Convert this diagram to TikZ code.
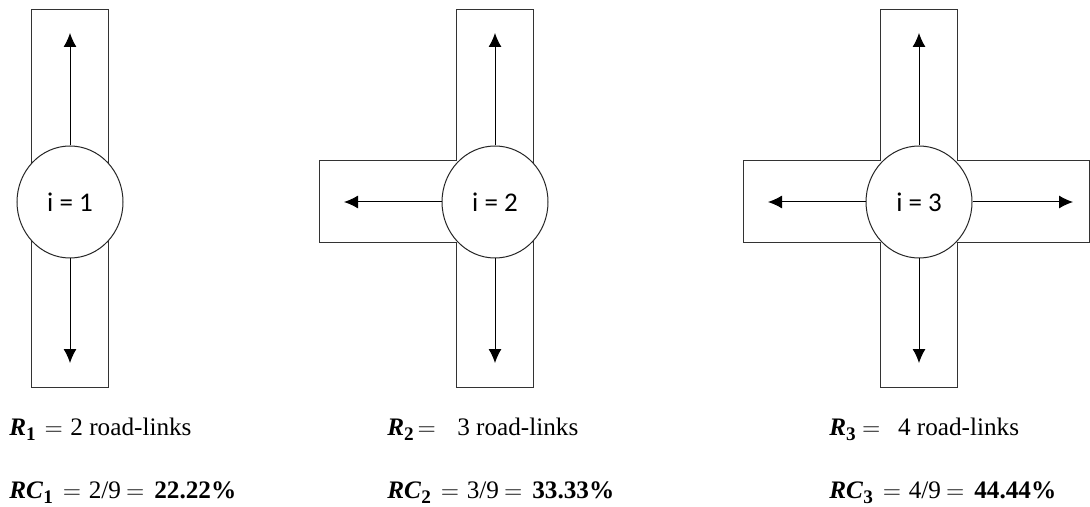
\documentclass[tikz,border=0pt]{standalone}
\usepackage{amsmath}
\usepackage{fontspec}
\setmainfont{Liberation Serif}
\newfontfamily\calib{Carlito}
\usetikzlibrary{arrows.meta,shapes.geometric}
\newcommand{\lbl}[2]{\textbf{\textit{#1}}\raisebox{-0.45ex}{\fontsize{9.6}{10}\selectfont\textbf{#2}}}

\begin{document}
\begin{tikzpicture}[
    x=0.5pt,y=-0.5pt,
    road/.style={draw=black!80,line width=0.5pt},
    junction/.style={ellipse,draw=black!85,fill=white,line width=0.5pt,
        minimum width=53pt,minimum height=56pt,inner sep=0pt,
        font={\calib\fontsize{13.5}{15}\selectfont}},
    link/.style={-{Latex[length=7pt,width=6.5pt]},line width=0.5pt},
    result/.style={anchor=base west,inner sep=0pt,
        font={\fontsize{12.6}{15}\selectfont}},
    ]
    \useasboundingbox (0,0) rectangle (1090,507);

    % One road-link: up and down
    \begin{scope}[shift={(70,0)}]
        \draw[road] (-38.5,10) rectangle (38.5,387);
        \node[junction] (jun1) at (0,202) {i = 1};
        \coordinate (up1) at (0,33);
        \coordinate (down1) at (0,363);
        \draw[link] (jun1.north) -- (up1);
        \draw[link] (jun1.south) -- (down1);
    \end{scope}

    % T junction
    \begin{scope}[shift={(495,0)}]
        \draw[road] (-38.5,10) -- (38.5,10) -- (38.5,387) -- (-38.5,387)
            -- (-38.5,243) -- (-176,243) -- (-176,161) -- (-38.5,161) -- cycle;
        \node[junction] (jun2) at (0,202) {i = 2};
        \coordinate (up2) at (0,33);
        \coordinate (down2) at (0,363);
        \coordinate (left2) at (-151,202);
        \draw[link] (jun2.north) -- (up2);
        \draw[link] (jun2.south) -- (down2);
        \draw[link] (jun2.west) -- (left2);
    \end{scope}

    % Cross junction
    \begin{scope}[shift={(919,0)}]
        \draw[road] (-38.5,10) -- (38.5,10) -- (38.5,161) -- (170,161)
            -- (170,243) -- (38.5,243) -- (38.5,387) -- (-38.5,387)
            -- (-38.5,243) -- (-176,243) -- (-176,161) -- (-38.5,161) -- cycle;
        \node[junction] (jun3) at (0,202) {i = 3};
        \coordinate (up3) at (0,33);
        \coordinate (down3) at (0,363);
        \coordinate (left3) at (-151,202);
        \coordinate (right3) at (154,202);
        \draw[link] (jun3.north) -- (up3);
        \draw[link] (jun3.south) -- (down3);
        \draw[link] (jun3.west) -- (left3);
        \draw[link] (jun3.east) -- (right3);
    \end{scope}

    \node[result] (r1) at (9,435)
        {\lbl{R}{1}\hspace{.35em}$=$\hspace{.3em}2 road-links};
    \node[result] (rc1) at (9,498)
        {\lbl{RC}{1}\hspace{.4em}$=$\hspace{.3em}2/9\hspace{.2em}$=$\hspace{.4em}\textbf{22.22\%}};
    \node[result] (r2) at (387,435)
        {\lbl{R}{2}\hspace{.15em}$=$\hspace{.85em}3 road-links};
    \node[result] (rc2) at (387,498)
        {\lbl{RC}{2}\hspace{.4em}$=$\hspace{.3em}3/9\hspace{.2em}$=$\hspace{.4em}\textbf{33.33\%}};
    \node[result] (r3) at (829,435)
        {\lbl{R}{3}\hspace{.25em}$=$\hspace{.7em}4 road-links};
    \node[result] (rc3) at (829,498)
        {\lbl{RC}{3}\hspace{.4em}$=$\hspace{.3em}4/9\hspace{.2em}$=$\hspace{.4em}\textbf{44.44\%}};
\end{tikzpicture}
\end{document}
